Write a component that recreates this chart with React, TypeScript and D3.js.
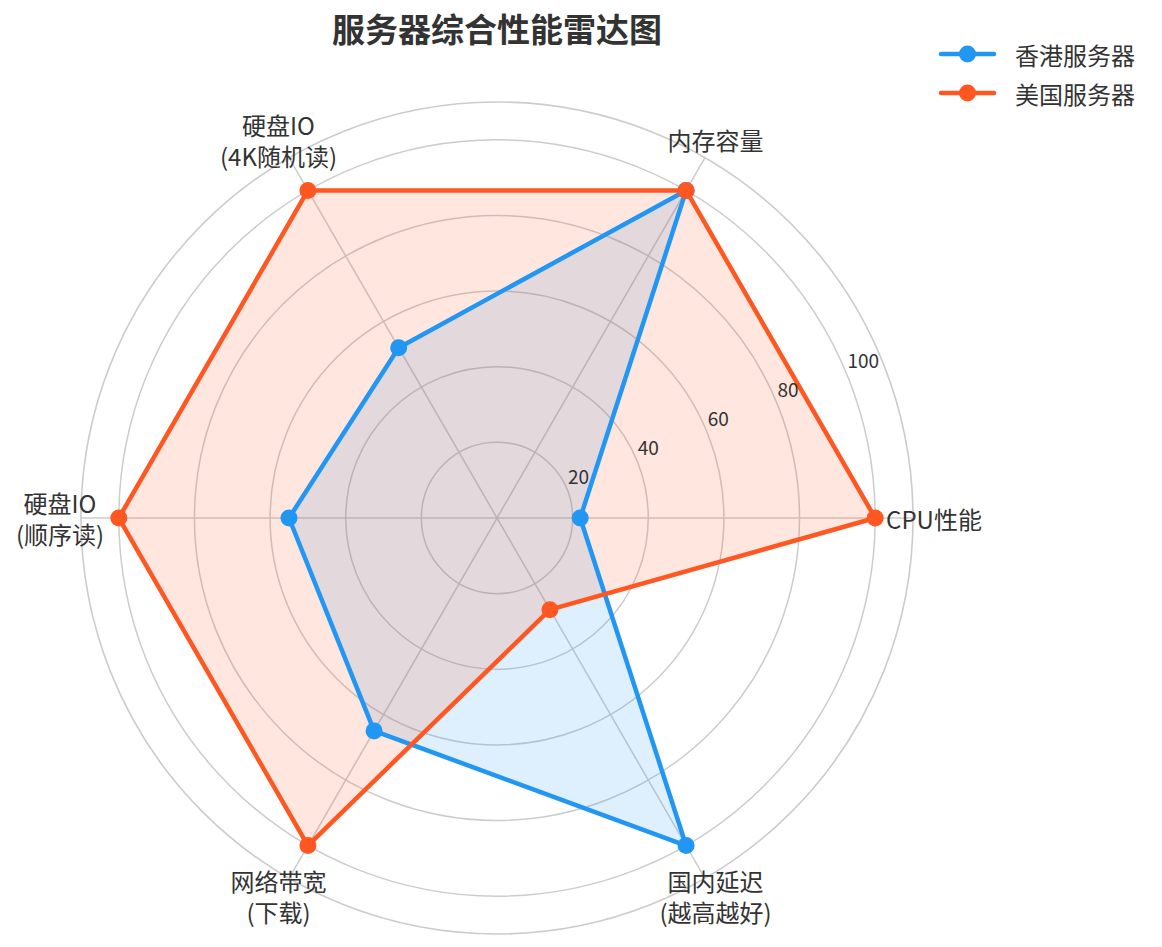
import React from 'react';
import * as d3 from 'd3';

const categories = ['CPU性能', '内存容量', '硬盘IO\n(4K随机读)', '硬盘IO\n(顺序读)', '网络带宽\n(下载)', '国内延迟\n(越高越好)'];
const hkValues = [22, 100, 52, 55, 65, 100];
const usValues = [100, 100, 100, 100, 100, 28];
const radialTicks = [20, 40, 60, 80, 100];
const seriesNames = ['香港服务器', '美国服务器'];
const seriesColors = ['#2196F3', '#FF5722'];
const title = '服务器综合性能雷达图';

const W = 1162, H = 947;
const cx = 497, cy = 518, R = 416;
const FONT = '"Noto Sans CJK SC", "Noto Sans", sans-serif';

export default function App() {
  const r = d3.scaleLinear().domain([0, 110]).range([0, R]);
  const n = categories.length;
  const ang = (i: number) => (i * 2 * Math.PI) / n;
  const px = (i: number, v: number) => cx + r(v) * Math.cos(ang(i));
  const py = (i: number, v: number) => cy - r(v) * Math.sin(ang(i));

  const radial = d3
    .lineRadial<number>()
    .angle((_, i) => Math.PI / 2 - ang(i))
    .radius((d) => r(d))
    .curve(d3.curveLinearClosed);

  const series = [hkValues, usValues];
  const gridColor = '#cccccc';
  const rlabelAngle = (22.5 * Math.PI) / 180;

  return (
    <svg width={W} height={H} style={{ position: 'absolute', left: 0, top: 0, background: '#fff' }} fontFamily={FONT}>
      <rect width={W} height={H} fill="#fff" />
      {radialTicks.map((t) => (
        <circle key={t} cx={cx} cy={cy} r={r(t)} fill="none" stroke={gridColor} strokeWidth={1.5} />
      ))}
      {categories.map((_, i) => (
        <line key={i} x1={cx} y1={cy} x2={px(i, 110)} y2={py(i, 110)} stroke={gridColor} strokeWidth={1.5} />
      ))}
      <circle cx={cx} cy={cy} r={r(110)} fill="none" stroke={gridColor} strokeWidth={1.6} />

      {series.map((vals, si) => (
        <g key={si} transform={`translate(${cx},${cy})`}>
          <path d={radial(vals) || ''} fill={seriesColors[si]} fillOpacity={0.15} stroke="none" />
        </g>
      ))}
      {series.map((vals, si) => (
        <g key={'l' + si}>
          <g transform={`translate(${cx},${cy})`}>
            <path d={radial(vals) || ''} fill="none" stroke={seriesColors[si]} strokeWidth={4.5} strokeLinejoin="round" />
          </g>
          {vals.map((v, i) => (
            <circle key={i} cx={px(i, v)} cy={py(i, v)} r={8.5} fill={seriesColors[si]} />
          ))}
        </g>
      ))}

      {radialTicks.map((t) => (
        <text
          key={t}
          x={cx + r(t) * Math.cos(rlabelAngle) + 1}
          y={cy - r(t) * Math.sin(rlabelAngle) - 5}
          fontSize={19}
          fill="#333"
          textAnchor="start"
        >
          {t}
        </text>
      ))}

      {categories.map((c, i) => {
        const lines = c.split('\n');
        const lx = cx + 437 * Math.cos(ang(i));
        const ly = cy - 437 * Math.sin(ang(i));
        const lh = 31;
        return (
          <g key={c}>
            {lines.map((l, k) => (
              <text
                key={k}
                x={lx}
                y={ly + (k - (lines.length - 1) / 2) * lh}
                fontSize={24}
                fill="#333"
                textAnchor="middle"
                dominantBaseline="central"
              >
                {l}
              </text>
            ))}
          </g>
        );
      })}

      <text x={497} y={28} fontSize={33} fontWeight="bold" fill="#333" textAnchor="middle" dominantBaseline="central">
        {title}
      </text>

      {seriesNames.map((name, si) => {
        const y = 54 + si * 39;
        return (
          <g key={name}>
            <line x1={941} x2={994} y1={y} y2={y} stroke={seriesColors[si]} strokeWidth={4.5} strokeLinecap="round" />
            <circle cx={967.5} cy={y} r={8.5} fill={seriesColors[si]} />
            <text x={1015} y={y} fontSize={24} fill="#333" dominantBaseline="central">
              {name}
            </text>
          </g>
        );
      })}
    </svg>
  );
}
